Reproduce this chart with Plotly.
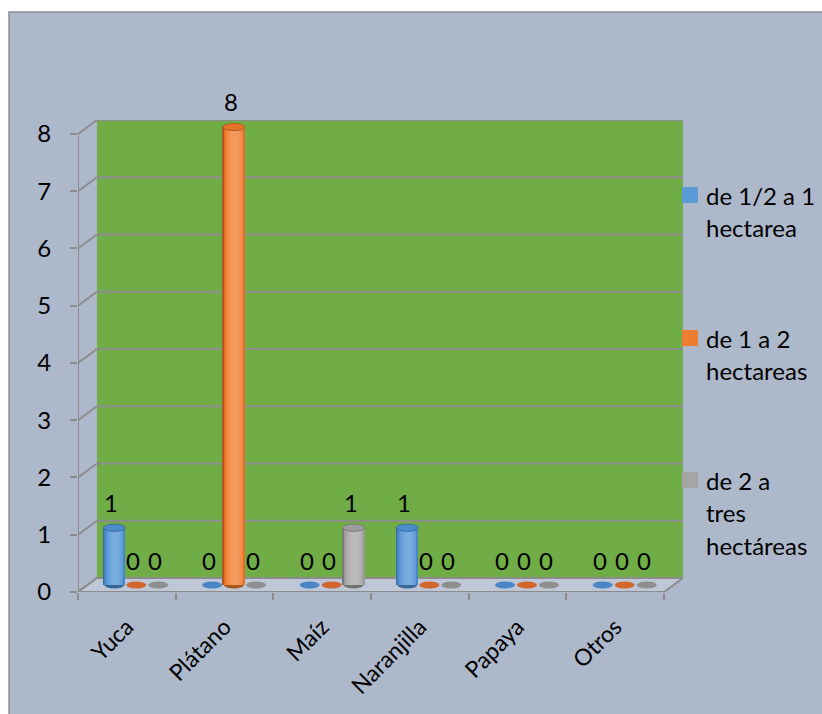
import math
import plotly.graph_objects as go

# ---- data -------------------------------------------------------------
categorias = ["Yuca", "Plátano", "Maíz", "Naranjilla", "Papaya", "Otros"]
serie_nombres = [["de 1/2 a 1", "hectarea"],
                 ["de 1 a 2", "hectareas"],
                 ["de 2 a", "tres", "hectáreas"]]
medio_a_1 = [1, 0, 0, 1, 0, 0]
uno_a_dos = [0, 8, 0, 0, 0, 0]
dos_a_tres = [0, 0, 1, 0, 0, 0]
y_ticks = [0, 1, 2, 3, 4, 5, 6, 7, 8]

series = [medio_a_1, uno_a_dos, dos_a_tres]
base_colors = ["#4F93D6", "#F07A2C", "#A5A5A5"]
flat_colors = ["#4A86C6", "#D2662C", "#8E8E8E"]

# ---- styling / geometry ----------------------------------------------
FONT = "Lato"
BG = "#ADB8CB"
FLOOR = "#BEC7D7"
WALL = "#70AD47"
GRID = "#8C8C8C"
W, H = 822, 714
ML, MR, MT, MB = 78, 139, 120, 122
PW, PH = W - ML - MR, H - MT - MB

DX, DY = 0.097, 0.122          # half depth of the 3D box, in data units
YMAX = y_ticks[-1]
n = len(categorias)
BW = 0.225                      # cylinder width (category units)
RY = 0.062                      # vertical radius of the cylinder caps


def px_x(p):
    return (p - ML) / PW


def px_y(p):
    return (H - MB - p) / PH


def hex2rgb(c):
    c = c.lstrip("#")
    return [int(c[i:i + 2], 16) for i in (0, 2, 4)]


def shade(c, k):
    r = hex2rgb(c)
    if k >= 0:
        r = [v + (255 - v) * k for v in r]
    else:
        r = [v * (1 + k) for v in r]
    return "rgb(%d,%d,%d)" % tuple(round(v) for v in r)


fig = go.Figure()
shapes = []

# chart area frame
shapes.append(dict(type="rect", xref="paper", yref="paper", layer="below",
                   x0=px_x(9), x1=px_x(W + 10), y0=px_y(H + 10), y1=px_y(12),
                   fillcolor=BG, line=dict(color="#8A8F98", width=1.5)))

# back wall and its gridlines
shapes.append(dict(type="rect", xref="x", yref="y", layer="below",
                   x0=-0.5 + DX, x1=n - 0.5 + DX, y0=DY, y1=YMAX + DY,
                   fillcolor=WALL, line=dict(width=0)))
for t in y_ticks:
    shapes.append(dict(type="line", xref="x", yref="y", layer="below",
                       x0=-0.5 + DX, x1=n - 0.5 + DX, y0=t + DY, y1=t + DY,
                       line=dict(color=GRID, width=2)))
    # side-wall diagonals
    shapes.append(dict(type="line", xref="x", yref="y", layer="below",
                       x0=-0.5 - DX, x1=-0.5 + DX, y0=t - DY, y1=t + DY,
                       line=dict(color=GRID, width=2)))

# floor
shapes.append(dict(type="path", xref="x", yref="y", layer="below",
                   path="M %f,%f L %f,%f L %f,%f L %f,%f Z" % (
                       -0.5 - DX, -DY, n - 0.5 - DX, -DY,
                       n - 0.5 + DX, DY, -0.5 + DX, DY),
                   fillcolor=FLOOR, line=dict(color=GRID, width=2)))
# vertical axis line
shapes.append(dict(type="line", xref="x", yref="y", layer="below",
                   x0=-0.5 - DX, x1=-0.5 - DX, y0=-DY, y1=YMAX - DY,
                   line=dict(color=GRID, width=2)))

# cylinder base ellipses (and flat discs for zero values)
for j, vals in enumerate(series):
    for i, v in enumerate(vals):
        xc = i + (j - 1) * BW
        col = flat_colors[j] if v == 0 else shade(base_colors[j], -0.3)
        shapes.append(dict(type="circle", xref="x", yref="y", layer="below",
                           x0=xc - BW / 2 + 0.01, x1=xc + BW / 2 - 0.01,
                           y0=-RY, y1=RY, fillcolor=col, line=dict(width=0)))

# cylinders: vertical strips with a lighting profile
N_STRIPS = 15
for j, vals in enumerate(series):
    xs_base = [i + (j - 1) * BW for i in range(n)]
    for s in range(N_STRIPS):
        t = -1 + (2 * s + 1) / N_STRIPS
        k = math.cos(math.asin(t) - 0.15)
        amt = (k - 0.6) * 0.6 if k > 0.6 else (k - 0.6) * 0.7
        off = -BW / 2 + (s + 0.5) * BW / N_STRIPS
        xs = [x + off for x in xs_base]
        ys = [v if v > 0 else 0 for v in vals]
        fig.add_trace(go.Bar(x=xs, y=ys, width=BW / N_STRIPS * 1.05,
                             marker=dict(color=shade(base_colors[j], amt),
                                         line=dict(width=0)),
                             showlegend=False, hoverinfo="skip"))

# cylinder tops
for j, vals in enumerate(series):
    for i, v in enumerate(vals):
        if v > 0:
            xc = i + (j - 1) * BW
            shapes.append(dict(type="circle", xref="x", yref="y", layer="above",
                               x0=xc - BW / 2, x1=xc + BW / 2,
                               y0=v - RY, y1=v + RY,
                               fillcolor=shade(base_colors[j], -0.05),
                               line=dict(color=shade(base_colors[j], -0.25), width=1)))

annotations = []
# value labels
for j, vals in enumerate(series):
    for i, v in enumerate(vals):
        annotations.append(dict(x=i + (j - 1) * BW, y=v, xref="x", yref="y",
                                text=str(v), showarrow=False, yanchor="middle",
                                xshift=-3, yshift=25,
                                font=dict(family=FONT, size=24, color="#000")))

# legend
leg_top = [187, 330, 472]
legend_colors = ["#5B9BD5", "#ED7D31", "#A5A5A5"]
for j, lines in enumerate(serie_nombres):
    y0 = leg_top[j]
    shapes.append(dict(type="rect", xref="paper", yref="paper",
                       x0=px_x(682), x1=px_x(698), y0=px_y(y0 + 16), y1=px_y(y0),
                       fillcolor=legend_colors[j], line=dict(width=0)))
    for li, txt in enumerate(lines):
        annotations.append(dict(x=px_x(704), y=px_y(y0 + 8 + 32.5 * li),
                                xref="paper", yref="paper", text=txt,
                                showarrow=False, xanchor="left", yanchor="middle",
                                font=dict(family=FONT, size=24, color="#000")))

fig.update_layout(
    width=W, height=H,
    margin=dict(l=ML, r=MR, t=MT, b=MB, pad=0),
    paper_bgcolor="white", plot_bgcolor="rgba(0,0,0,0)",
    barmode="overlay", bargap=0,
    showlegend=False,
    shapes=shapes, annotations=annotations,
    font=dict(family=FONT, size=24, color="#000"),
    xaxis=dict(range=[-0.5 - DX, n - 0.5 + DX], visible=False, fixedrange=True),
    yaxis=dict(range=[-DY, YMAX + DY], visible=False, fixedrange=True),
    # front-plane category labels
    xaxis2=dict(overlaying="x", anchor="y", side="bottom",
                range=[-0.5, n - 0.5 + 2 * DX],
                tickmode="array", tickvals=list(range(n)), ticktext=categorias,
                tickangle=-45, ticks="", showgrid=False, zeroline=False,
                showline=False, ticklabelstandoff=16,
                tickfont=dict(family=FONT, size=23)),
    # front-plane tick marks at category boundaries
    xaxis3=dict(overlaying="x", anchor="y", side="bottom",
                range=[-0.5, n - 0.5 + 2 * DX],
                tickmode="array", tickvals=[i - 0.5 for i in range(n + 1)],
                ticktext=[""] * (n + 1), ticks="outside", ticklen=7,
                tickwidth=2, tickcolor=GRID, showgrid=False, zeroline=False,
                showline=False),
    # front-plane value axis
    yaxis2=dict(overlaying="y", anchor="x", side="left",
                range=[0, YMAX + 2 * DY],
                tickmode="array", tickvals=y_ticks, ticks="outside",
                ticklen=7, tickwidth=2, tickcolor=GRID, ticklabelstandoff=14,
                showgrid=False, zeroline=False, showline=False,
                tickfont=dict(family=FONT, size=24)),
)

# invisible anchor traces so the overlay axes are rendered
fig.add_trace(go.Scatter(x=[0], y=[0], xaxis="x2", yaxis="y2", mode="markers",
                         marker=dict(opacity=0), showlegend=False, hoverinfo="skip"))
fig.add_trace(go.Scatter(x=[0], y=[0], xaxis="x3", yaxis="y2", mode="markers",
                         marker=dict(opacity=0), showlegend=False, hoverinfo="skip"))

fig.write_html("out.html")
